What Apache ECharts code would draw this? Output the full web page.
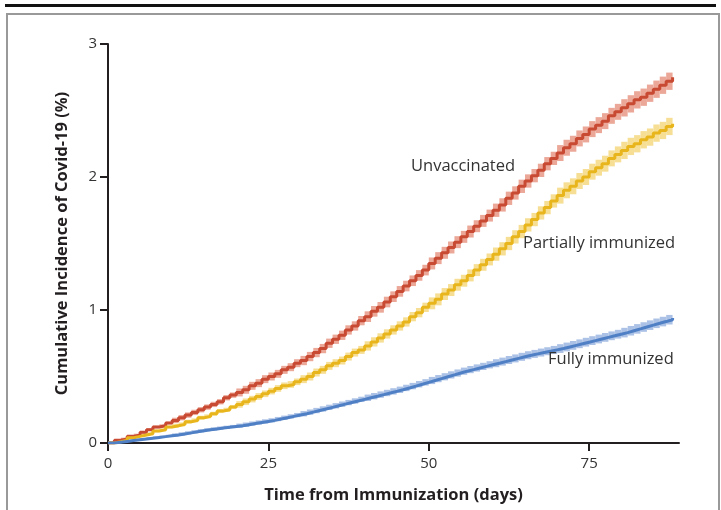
<!DOCTYPE html>
<html>
<head>
<meta charset="utf-8">
<script src="https://cdn.jsdelivr.net/npm/echarts@6/dist/echarts.min.js"></script>
<style>
  html, body { margin: 0; padding: 0; background: #fff; }
  #chart { width: 721px; height: 510px; }
</style>
</head>
<body>
<div id="chart"></div>
<script>
// days 0..88, cumulative incidence (%)
const days = [];
for (let d = 0; d <= 88; d++) days.push(d);

const unvaccinated = [
  0, 0.02, 0.03, 0.05, 0.06, 0.08,
  0.10, 0.12, 0.13, 0.15, 0.17,
  0.19, 0.21, 0.23, 0.25, 0.27,
  0.29, 0.31, 0.34, 0.36, 0.38,
  0.40, 0.43, 0.45, 0.48, 0.50,
  0.52, 0.55, 0.57, 0.60, 0.62,
  0.65, 0.68, 0.71, 0.75, 0.78,
  0.81, 0.85, 0.88, 0.92, 0.95,
  0.99, 1.02, 1.06, 1.10, 1.14,
  1.18, 1.22, 1.26, 1.30, 1.35,
  1.39, 1.43, 1.47, 1.51, 1.55,
  1.59, 1.63, 1.67, 1.71, 1.75,
  1.79, 1.84, 1.88, 1.93, 1.97,
  2.01, 2.05, 2.10, 2.14, 2.18,
  2.22, 2.25, 2.29, 2.32, 2.36,
  2.39, 2.42, 2.46, 2.49, 2.52,
  2.55, 2.58, 2.60, 2.63, 2.66,
  2.69, 2.72, 2.75
];

const partially = [
  0, 0.01, 0.02, 0.04, 0.05, 0.06,
  0.07, 0.09, 0.10, 0.12, 0.13,
  0.14, 0.16, 0.17, 0.19, 0.20,
  0.22, 0.24, 0.25, 0.27, 0.29,
  0.31, 0.33, 0.35, 0.37, 0.39,
  0.41, 0.43, 0.44, 0.46, 0.48,
  0.50, 0.53, 0.55, 0.58, 0.60,
  0.62, 0.65, 0.68, 0.70, 0.73,
  0.76, 0.79, 0.82, 0.85, 0.88,
  0.91, 0.95, 0.98, 1.02, 1.05,
  1.08, 1.12, 1.15, 1.19, 1.22,
  1.26, 1.30, 1.34, 1.38, 1.42,
  1.46, 1.50, 1.55, 1.59, 1.64,
  1.68, 1.73, 1.77, 1.82, 1.86,
  1.90, 1.93, 1.97, 2.00, 2.04,
  2.07, 2.10, 2.14, 2.17, 2.20,
  2.23, 2.25, 2.28, 2.30, 2.33,
  2.35, 2.38, 2.40
];

const fully = [
  0, 0.006, 0.012, 0.018, 0.024, 0.030,
  0.036, 0.042, 0.048, 0.054, 0.060,
  0.068, 0.076, 0.084, 0.092, 0.100,
  0.106, 0.112, 0.118, 0.124, 0.130,
  0.138, 0.146, 0.154, 0.162, 0.170,
  0.180, 0.190, 0.200, 0.210, 0.220,
  0.232, 0.244, 0.256, 0.268, 0.280,
  0.292, 0.304, 0.316, 0.328, 0.340,
  0.352, 0.364, 0.376, 0.388, 0.400,
  0.414, 0.428, 0.442, 0.456, 0.470,
  0.484, 0.498, 0.512, 0.526, 0.540,
  0.552, 0.564, 0.576, 0.588, 0.600,
  0.612, 0.624, 0.636, 0.648, 0.660,
  0.670, 0.680, 0.690, 0.700, 0.710,
  0.722, 0.734, 0.746, 0.758, 0.770,
  0.782, 0.794, 0.806, 0.818, 0.830,
  0.844, 0.858, 0.872, 0.886, 0.900,
  0.913, 0.927, 0.940
];

// 95% CI half-width per 10-day block (days 0-9, 10-19, ... 80-88)
const unvaccinatedCI = [0.01, 0.02, 0.03, 0.035, 0.04, 0.045, 0.05, 0.06, 0.065];
const partiallyCI = [0.01, 0.015, 0.025, 0.03, 0.035, 0.045, 0.05, 0.06, 0.065];
const fullyCI = [0.008, 0.012, 0.016, 0.02, 0.024, 0.027, 0.03, 0.033, 0.036];

const xTicks = [0, 25, 50, 75];
const yTicks = [0, 1, 2, 3];

const groups = [
  { name: 'Unvaccinated', values: unvaccinated, ci: unvaccinatedCI, line: '#c94a33', band: '#eba797' },
  { name: 'Partially immunized', values: partially, ci: partiallyCI, line: '#e8b61c', band: '#f6df95' },
  { name: 'Fully immunized', values: fully, ci: fullyCI, line: '#4f7fc4', band: '#abc1e5' }
];

const font = '"Open Sans", Lato, sans-serif';
const ink = '#231f20';

// one rect per day step, between lower and upper CI
function bandItem(color) {
  return function (params, api) {
    const d = api.value(0);
    const p0 = api.coord([d, api.value(2)]);
    const p1 = api.coord([d + 1, api.value(1)]);
    return {
      type: 'rect',
      shape: { x: p0[0], y: p0[1], width: p1[0] - p0[0], height: p1[1] - p0[1] },
      style: { fill: color }
    };
  };
}

const series = [];
groups.forEach(g => {
  series.push({
    type: 'custom', silent: true, z: 1,
    renderItem: bandItem(g.band),
    encode: { x: 0, y: [1, 2] },
    data: days.slice(0, -1).map((d, k) => {
      const hw = g.ci[Math.floor(d / 10)];
      return [d, Math.max(0, g.values[k] - hw), g.values[k] + hw];
    })
  });
});
groups.forEach(g => {
  series.push({
    name: g.name, type: 'line', step: 'end', symbol: 'none', z: 3,
    data: days.map((d, k) => [d, g.values[k]]),
    lineStyle: { color: g.line, width: 3 }
  });
});

const chart = echarts.init(document.getElementById('chart'));
chart.setOption({
  animation: false,
  grid: { left: 108, right: 42, top: 44, bottom: 67 },
  xAxis: {
    type: 'value', min: 0, max: 89,
    name: 'Time from Immunization (days)', nameLocation: 'middle', nameGap: 44,
    nameTextStyle: { fontFamily: font, fontWeight: 'bold', fontSize: 16.5, color: ink },
    axisLine: { lineStyle: { color: ink, width: 2 } },
    axisTick: { customValues: xTicks, length: 8, lineStyle: { color: ink, width: 2 } },
    axisLabel: { customValues: xTicks, margin: 13, fontFamily: font, fontSize: 15, color: '#333' },
    splitLine: { show: false }
  },
  yAxis: {
    type: 'value', min: 0, max: 3,
    name: 'Cumulative Incidence of Covid-19 (%)', nameLocation: 'middle', nameGap: 37,
    nameTextStyle: { fontFamily: font, fontWeight: 'bold', fontSize: 16.5, color: ink },
    axisLine: { show: true, lineStyle: { color: ink, width: 2 } },
    axisTick: { show: true, customValues: yTicks, length: 8, lineStyle: { color: ink, width: 2 } },
    axisLabel: { customValues: yTicks, margin: 11, fontFamily: font, fontSize: 15, color: '#333' },
    splitLine: { show: false }
  },
  series: series,
  graphic: [
    { type: 'rect', z: 10, shape: { x: 5, y: 4, width: 711, height: 3 }, style: { fill: '#111' } },
    { type: 'polyline', z: 10, shape: { points: [[7, 510], [7, 14], [719, 14], [719, 510]] },
      style: { stroke: '#999', lineWidth: 2, fill: null } },
    { type: 'text', z: 10, left: 411, top: 158, style: { text: 'Unvaccinated', fontFamily: font, fontSize: 16.5, fill: '#333' } },
    { type: 'text', z: 10, left: 523, top: 235, style: { text: 'Partially immunized', fontFamily: font, fontSize: 16.5, fill: '#333' } },
    { type: 'text', z: 10, left: 548, top: 351, style: { text: 'Fully immunized', fontFamily: font, fontSize: 16.5, fill: '#333' } }
  ]
});
</script>
</body>
</html>
